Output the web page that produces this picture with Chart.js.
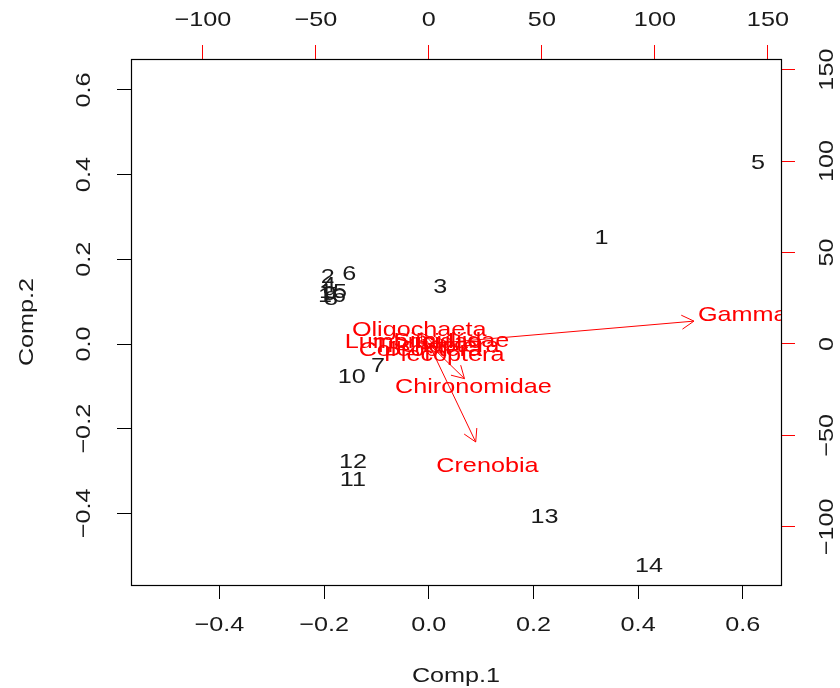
<!DOCTYPE html>
<html lang="en">
<head>
<meta charset="UTF-8">
<title>Biplot Comp.1 / Comp.2</title>
<style>
  body { margin: 0; background: #fff; }
  #wrap { width: 840px; height: 688px; }
</style>
</head>
<body>
<div id="wrap"><canvas id="biplot"></canvas></div>

<script src="https://cdn.jsdelivr.net/npm/chart.js"></script>
<script>
// site scores (black numbers)
const siteLabels = ['1','2','3','4','5','6','7','8','9','10','11','12','13','14','15','16'];
const siteComp1 = [0.330, -0.193, 0.022, -0.191, 0.629, -0.152, -0.097, -0.187, -0.189, -0.147, -0.145, -0.145, 0.221, 0.421, -0.183, -0.185];
const siteComp2 = [0.249, 0.157, 0.133, 0.138, 0.428, 0.164, -0.052, 0.105, 0.117, -0.078, -0.321, -0.279, -0.408, -0.525, 0.122, 0.112];

// species loadings (red arrows), top/right scale
const speciesLabels = ['Oligochaeta', 'Lumbricidae', 'Simuliidae', 'Trichoptera', 'Coleoptera', 'Plecoptera', 'Chironomidae', 'Crenobia', 'Gammarus'];
const speciesComp1 = [-4.3, -6.9, 9.9, 3.3, -3.8, 6.8, 19.7, 25.9, 146.6];
const speciesComp2 = [7.5, 0.9, 1.5, -1.3, -3.5, -6.2, -23.7, -67.0, 15.6];

const compTicks = [-0.4, -0.2, 0, 0.2, 0.4, 0.6];
const loadingTicks = [-100, -50, 0, 50, 100, 150];
const compRange = [-0.569, 0.673];
const loadingRange = [-131.8, 155.8];

const RED = '#ff0000';
const INK = '#1a1a1a';

function rText(ctx, str, x, y, rot, color) {
  ctx.save();
  ctx.translate(x, y);
  if (rot) ctx.rotate(rot);
  ctx.scale(1.2, 1);
  ctx.fillStyle = color;
  ctx.font = '21px "Liberation Sans", Arial, sans-serif';
  ctx.textAlign = 'center';
  ctx.textBaseline = 'middle';
  ctx.fillText(str, 0, 0);
  ctx.restore();
}

function fmtComp(v) {
  const s = Math.abs(v).toFixed(1);
  return v < 0 ? '\u2212' + s : s;
}
function fmtLoad(v) {
  return v < 0 ? '\u2212' + Math.abs(v) : String(v);
}

function axisOpts(pos, lo, hi, ticks, size, color) {
  return {
    type: 'linear',
    position: pos,
    min: lo,
    max: hi,
    afterBuildTicks: s => { s.ticks = ticks.map(v => ({ value: v })); },
    afterFit: s => {
      if (pos === 'bottom' || pos === 'top') s.height = size; else s.width = size;
    },
    ticks: { display: false },
    grid: { drawOnChartArea: false, drawTicks: true, tickLength: 14, color: color, tickColor: color, lineWidth: 1 },
    border: { display: false }
  };
}

const biplotDraw = {
  id: 'biplotDraw',
  afterDatasetsDraw(chart) {
    const ctx = chart.ctx;
    const a = chart.chartArea;
    const sx = chart.scales.x, sy = chart.scales.y;
    const sx2 = chart.scales.x2, sy2 = chart.scales.y2;

    // box
    ctx.save();
    ctx.strokeStyle = '#000';
    ctx.lineWidth = 1.2;
    ctx.strokeRect(a.left + 0.5, a.top + 0.5, a.right - a.left, a.bottom - a.top);
    ctx.restore();

    ctx.save();
    ctx.beginPath();
    ctx.rect(a.left, a.top, a.right - a.left, a.bottom - a.top);
    ctx.clip();

    // site labels
    const siteMeta = chart.getDatasetMeta(0);
    siteMeta.data.forEach((pt, i) => rText(ctx, siteLabels[i], pt.x, pt.y, 0, INK));

    // arrows, 80% of loading length
    const ox = sx2.getPixelForValue(0), oy = sy2.getPixelForValue(0);
    ctx.strokeStyle = RED;
    ctx.lineWidth = 1;
    speciesComp1.forEach((v, i) => {
      const tx = sx2.getPixelForValue(0.8 * v);
      const ty = sy2.getPixelForValue(0.8 * speciesComp2[i]);
      const ang = Math.atan2(ty - oy, tx - ox);
      const hl = 14, ha = Math.PI / 6;
      ctx.beginPath();
      ctx.moveTo(ox, oy);
      ctx.lineTo(tx, ty);
      ctx.moveTo(tx - hl * Math.cos(ang - ha), ty - hl * Math.sin(ang - ha));
      ctx.lineTo(tx, ty);
      ctx.lineTo(tx - hl * Math.cos(ang + ha), ty - hl * Math.sin(ang + ha));
      ctx.stroke();
    });

    // species labels
    const spMeta = chart.getDatasetMeta(1);
    spMeta.data.forEach((pt, i) => rText(ctx, speciesLabels[i], pt.x, pt.y, 0, RED));
    ctx.restore();

    // tick labels
    sx.ticks.forEach(t => rText(ctx, fmtComp(t.value), sx.getPixelForValue(t.value), a.bottom + 40, 0, INK));
    sy.ticks.forEach(t => rText(ctx, fmtComp(t.value), a.left - 47, sy.getPixelForValue(t.value), -Math.PI / 2, INK));
    sx2.ticks.forEach(t => rText(ctx, fmtLoad(t.value), sx2.getPixelForValue(t.value), a.top - 39, 0, INK));
    sy2.ticks.forEach(t => rText(ctx, fmtLoad(t.value), a.right + 46, sy2.getPixelForValue(t.value), -Math.PI / 2, INK));

    // axis titles
    rText(ctx, 'Comp.1', (a.left + a.right) / 2, 676, 0, INK);
    rText(ctx, 'Comp.2', 27, (a.top + a.bottom) / 2, -Math.PI / 2, INK);
  }
};

new Chart(document.getElementById('biplot'), {
  type: 'scatter',
  data: {
    datasets: [
      {
        label: 'sites',
        data: siteComp1.map((v, i) => ({ x: v, y: siteComp2[i] })),
        xAxisID: 'x', yAxisID: 'y',
        pointRadius: 0
      },
      {
        label: 'species',
        data: speciesComp1.map((v, i) => ({ x: v, y: speciesComp2[i] })),
        xAxisID: 'x2', yAxisID: 'y2',
        pointRadius: 0
      }
    ]
  },
  options: {
    responsive: true,
    maintainAspectRatio: false,
    animation: false,
    events: [],
    layout: { padding: 0 },
    plugins: { legend: { display: false }, tooltip: { enabled: false } },
    scales: {
      x: axisOpts('bottom', compRange[0], compRange[1], compTicks, 103, '#000'),
      y: axisOpts('left', compRange[0], compRange[1], compTicks, 131, '#000'),
      x2: axisOpts('top', loadingRange[0], loadingRange[1], loadingTicks, 59, RED),
      y2: axisOpts('right', loadingRange[0], loadingRange[1], loadingTicks, 59, RED)
    }
  },
  plugins: [biplotDraw]
});
</script>
</body>
</html>
